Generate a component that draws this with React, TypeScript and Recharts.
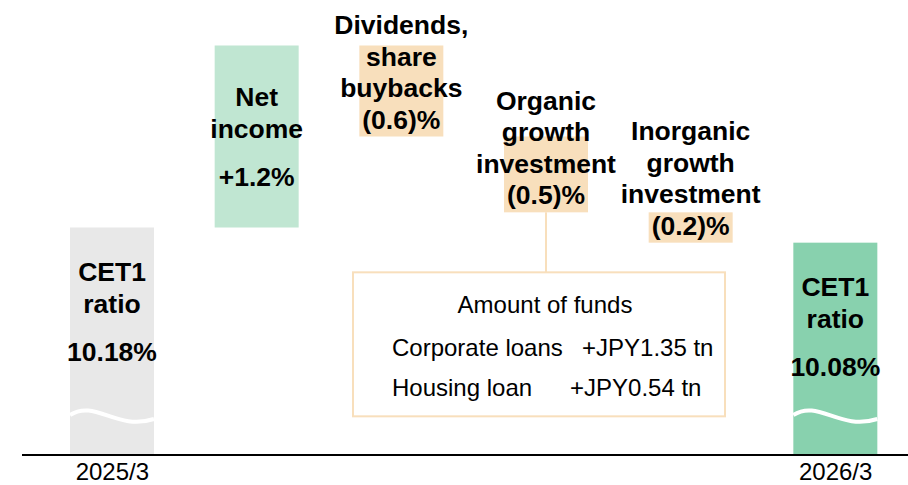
import { BarChart, Bar, XAxis, YAxis, Cell, LabelList } from 'recharts';

const categories = ['2025/3', 'Net income', 'Dividends, share buybacks', 'Organic growth investment', 'Inorganic growth investment', '2026/3'];
const tickLabels = ['2025/3', '', '', '', '', '2026/3'];
// totals are CET1 ratio levels, the rest are changes in percentage points
const values = [10.18, 1.2, -0.6, -0.5, -0.2, 10.08];
const isTotal = [true, false, false, false, false, true];
const nameLines = [
  ['CET1', 'ratio'],
  ['Net', 'income'],
  ['Dividends,', 'share', 'buybacks'],
  ['Organic', 'growth', 'investment'],
  ['Inorganic', 'growth', 'investment'],
  ['CET1', 'ratio'],
];
const valueLabels = ['10.18%', '+1.2%', '(0.6)%', '(0.5)%', '(0.2)%', '10.08%'];
const barColors = ['#E8E8E8', '#C0E6D2', '#F8DFBC', '#F8DFBC', '#F8DFBC', '#88D1AE'];
const fundsTitle = 'Amount of funds';
const fundsRows = [
  ['Corporate loans', '+JPY1.35 tn'],
  ['Housing loan', '+JPY0.54 tn'],
];

const BASE = 8.68;
const FONT = '"Liberation Sans", Arial, sans-serif';

let running = 0;
const data = categories.map((name, i) => {
  let range: number[];
  if (isTotal[i]) {
    range = [BASE, values[i]];
    running = values[i];
  } else {
    const next = running + values[i];
    range = [Math.min(running, next), Math.max(running, next)];
    running = next;
  }
  return { name, tick: tickLabels[i], range };
});

const BarShape = (props: any) => {
  const { x, y, width, height, index } = props;
  const top = Math.min(y, y + height);
  const h = Math.abs(height);
  const fill = barColors[index];
  if (!isTotal[index]) return <rect x={x} y={top} width={width} height={h} fill={fill} />;
  const yb = top + h - 40;
  const w = width;
  return (
    <g>
      <rect x={x} y={top} width={width} height={h} fill={fill} />
      <path
        d={`M${x},${yb} C${x + w * 0.3},${yb - 16} ${x + w * 0.55},${yb + 16} ${x + w},${yb + 4}`}
        stroke="#fff"
        strokeWidth={4}
        fill="none"
      />
    </g>
  );
};

const renderLabel = (props: any) => {
  const { x, y, width, height, index } = props;
  const top = Math.min(y, y + height);
  const bottom = Math.max(y, y + height);
  const cx = x + width / 2;
  const lines = nameLines[index];
  const step = 31.5;
  const textProps = {
    textAnchor: 'middle' as const,
    dominantBaseline: 'central' as const,
    fontFamily: FONT,
    fontWeight: 'bold',
    fontSize: 26.5,
    fill: '#000',
  };
  const items: any[] = [];
  if (values[index] > 0) {
    const first = isTotal[index] ? top + 44 : top + 51;
    lines.forEach((l, k) => {
      items.push(<text key={k} x={cx} y={first + k * 32} {...textProps}>{l}</text>);
    });
    items.push(
      <text key="v" x={cx} y={first + (lines.length - 1) * 32 + 48} {...textProps}>
        {valueLabels[index]}
      </text>
    );
  } else {
    const vy = bottom - 17;
    lines.forEach((l, k) => {
      items.push(
        <text key={k} x={cx} y={vy - (lines.length - k) * step} {...textProps}>{l}</text>
      );
    });
    items.push(<text key="v" x={cx} y={vy} {...textProps}>{valueLabels[index]}</text>);
  }
  if (index === 3) {
    const bx = cx - 193;
    const by = bottom + 60;
    const small = { dominantBaseline: 'central' as const, fontFamily: FONT, fontSize: 24, fill: '#000' };
    items.push(
      <g key="box">
        <line x1={cx} y1={bottom} x2={cx} y2={by} stroke="#F8DFBC" strokeWidth={2} />
        <rect x={bx} y={by} width={372} height={144} fill="#fff" stroke="#F8DFBC" strokeWidth={2} />
        <text x={bx + 192} y={by + 32} textAnchor="middle" {...small}>
          {fundsTitle}
        </text>
        {fundsRows.map((r, k) => (
          <g key={k}>
            <text x={bx + 39} y={by + 75 + k * 40} {...small}>
              {r[0]}
            </text>
            <text x={bx + (k === 0 ? 229 : 217)} y={by + 75 + k * 40} {...small}>
              {r[1]}
            </text>
          </g>
        ))}
      </g>
    );
  }
  return <g>{items}</g>;
};

export default function App() {
  return (
    <div style={{ position: 'absolute', left: 0, top: 0, background: '#fff' }}>
      <BarChart width={908} height={485} data={data} margin={{ top: 0, right: 0, bottom: 0, left: 22 }} barSize={84}>
        <XAxis
          dataKey="tick"
          height={30}
          padding={{ left: 18, right: 0 }}
          axisLine={{ stroke: '#000', strokeWidth: 2 }}
          tickLine={false}
          interval={0}
          tick={{ fontSize: 24, fill: '#000', fontFamily: FONT }}
        />
        <YAxis hide type="number" domain={[BASE, BASE + 3]} allowDataOverflow />
        <Bar dataKey="range" shape={BarShape} isAnimationActive={false}>
          {data.map((d, i) => (
            <Cell key={d.name} fill={barColors[i]} />
          ))}
          <LabelList dataKey="range" content={renderLabel} />
        </Bar>
      </BarChart>
    </div>
  );
}
